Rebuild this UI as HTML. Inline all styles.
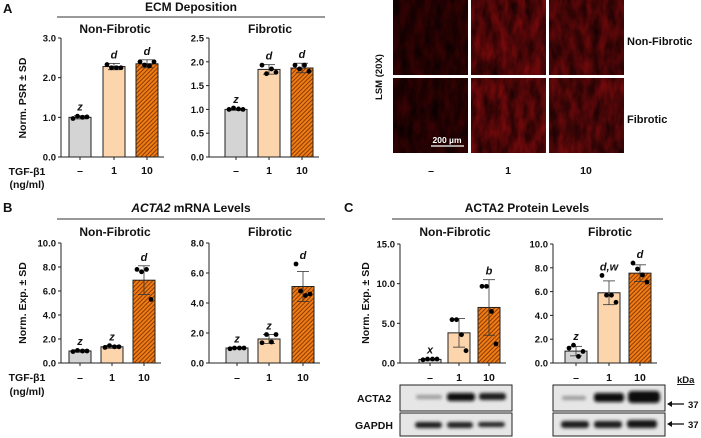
<!DOCTYPE html>
<html><head><meta charset="utf-8"><style>
html,body{margin:0;padding:0;background:#fff;}
svg{display:block;font-family:"Liberation Sans",Arial,sans-serif;}
text{font-weight:bold;fill:#111;}
</style></head><body>
<svg id="fig" width="701" height="438" viewBox="0 0 701 438" xmlns="http://www.w3.org/2000/svg">
<defs>
<pattern id="hatch" width="3" height="3" patternUnits="userSpaceOnUse" patternTransform="rotate(45)">
<rect width="3" height="3" fill="#f07d14"/><rect width="1" height="3" fill="#8a3a05"/>
</pattern>
<filter id="tex" x="0" y="0" width="100%" height="100%">
<feTurbulence type="fractalNoise" baseFrequency="0.12 0.05" numOctaves="3" seed="7"/>
<feColorMatrix type="matrix" values="0 0 0 0 0  0 0 0 0 0  0 0 0 0 0  0 0 0 -1.4 1.2"/>
</filter>
<filter id="blur"><feGaussianBlur stdDeviation="1.6"/></filter>
</defs>
<g id="static">
<text x="3" y="13" font-size="13">A</text>
<text x="3" y="212" font-size="13">B</text>
<text x="344" y="212" font-size="13">C</text>
<text x="191" y="11" font-size="12" text-anchor="middle">ECM Deposition</text>
<line x1="57" y1="17" x2="325" y2="17" stroke="#333" stroke-width="1"/>
<text x="191" y="212" font-size="12" text-anchor="middle"><tspan font-style="italic">ACTA2</tspan> mRNA Levels</text>
<line x1="57" y1="219" x2="325" y2="219" stroke="#333" stroke-width="1"/>
<text x="527" y="212" font-size="12" text-anchor="middle">ACTA2 Protein Levels</text>
<line x1="392" y1="219" x2="663" y2="219" stroke="#333" stroke-width="1"/>
<text x="27" y="175" font-size="10.5" text-anchor="middle">TGF-β1</text>
<text x="27" y="188" font-size="10.5" text-anchor="middle">(ng/ml)</text>
<text x="27" y="381" font-size="10.5" text-anchor="middle">TGF-β1</text>
<text x="27" y="395" font-size="10.5" text-anchor="middle">(ng/ml)</text>
<text transform="translate(26,98) rotate(-90)" font-size="10.5" text-anchor="middle">Norm. PSR ± SD</text>
<text transform="translate(26,303) rotate(-90)" font-size="10.5" text-anchor="middle">Norm. Exp. ± SD</text>
<text transform="translate(369,303) rotate(-90)" font-size="10.5" text-anchor="middle">Norm. Exp. ± SD</text>
<text transform="translate(382,77) rotate(-90)" font-size="9.5" text-anchor="middle">LSM (20X)</text>
<g>
<rect x="393" y="0" width="75" height="75" fill="#3a0304"/><rect x="393" y="0" width="75" height="75" fill="#c8161b" filter="url(#tex)" opacity="0.8"/>
<rect x="471" y="0" width="75" height="75" fill="#7a0a0c"/><rect x="471" y="0" width="75" height="75" fill="#e0262a" filter="url(#tex)" opacity="0.75"/>
<rect x="549" y="0" width="75" height="75" fill="#6e090b"/><rect x="549" y="0" width="75" height="75" fill="#d82024" filter="url(#tex)" opacity="0.75"/>
<rect x="393" y="78" width="75" height="75" fill="#3a0304"/><rect x="393" y="78" width="75" height="75" fill="#c8161b" filter="url(#tex)" opacity="0.8"/>
<rect x="471" y="78" width="75" height="75" fill="#7a0a0c"/><rect x="471" y="78" width="75" height="75" fill="#e0262a" filter="url(#tex)" opacity="0.75"/>
<rect x="549" y="78" width="75" height="75" fill="#720a0c"/><rect x="549" y="78" width="75" height="75" fill="#d82024" filter="url(#tex)" opacity="0.75"/>
<line x1="431" y1="146" x2="464" y2="146" stroke="#fff" stroke-width="1.2"/>
<text x="447" y="143" font-size="8.5" text-anchor="middle" style="fill:#fff">200 µm</text>
</g>
<text x="627" y="45" font-size="11">Non-Fibrotic</text>
<text x="627" y="123" font-size="11">Fibrotic</text>
<text x="431" y="174" font-size="10.5" text-anchor="middle">–</text>
<text x="508" y="174" font-size="10.5" text-anchor="middle">1</text>
<text x="586" y="174" font-size="10.5" text-anchor="middle">10</text>
<g>
<rect x="400" y="385" width="112" height="26" fill="#e6e6e6" stroke="#222" stroke-width="1"/>
<rect x="400" y="413" width="112" height="23" fill="#e6e6e6" stroke="#222" stroke-width="1"/>
<rect x="553" y="385" width="112" height="26" fill="#e6e6e6" stroke="#222" stroke-width="1"/>
<rect x="553" y="413" width="112" height="23" fill="#e6e6e6" stroke="#222" stroke-width="1"/>
<g filter="url(#blur)">
<rect x="416" y="395" width="26" height="4" rx="2" fill="#999"/>
<rect x="447" y="393" width="28" height="8" rx="3" fill="#111"/>
<rect x="479" y="393" width="27" height="7" rx="3" fill="#1a1a1a"/>
<rect x="415" y="422" width="27" height="6" rx="3" fill="#1a1a1a"/>
<rect x="447" y="422" width="26" height="6" rx="3" fill="#222"/>
<rect x="478" y="422" width="27" height="5" rx="3" fill="#222"/>
<rect x="562" y="396" width="24" height="4" rx="2" fill="#999"/>
<rect x="594" y="393" width="30" height="9" rx="3" fill="#111"/>
<rect x="628" y="391" width="32" height="12" rx="4" fill="#0a0a0a"/>
<rect x="561" y="421" width="28" height="7" rx="3" fill="#1a1a1a"/>
<rect x="594" y="421" width="28" height="7" rx="3" fill="#1a1a1a"/>
<rect x="627" y="420" width="30" height="8" rx="3" fill="#151515"/>
</g>
</g>
<text x="357" y="402" font-size="10.5">ACTA2</text>
<text x="355" y="429" font-size="10.5">GAPDH</text>
<text x="677" y="383" font-size="9.5" text-decoration="underline">kDa</text>
<g>
<line x1="670" y1="404" x2="684" y2="404" stroke="#111" stroke-width="1.3"/><polygon points="667,404 672,401 672,407" fill="#111"/>
<text x="688" y="408" font-size="9.5">37</text>
<line x1="670" y1="424" x2="684" y2="424" stroke="#111" stroke-width="1.3"/><polygon points="667,424 672,421 672,427" fill="#111"/>
<text x="688" y="428" font-size="9.5">37</text>
</g>
</g>
<g id="charts"></g>
</svg>
<script>
const aNfMeans=[1.0,2.28,2.35];
const aNfSd=[0.04,0.08,0.1];
const aNfPts=[[0.97,1.03,1.0,1.01],[2.33,2.25,2.25,2.25],[2.4,2.32,2.3,2.4]];
const aNfLetters=["z","d","d"];
const aNfTicks=[0,1,2,3];
const aFMeans=[1.0,1.84,1.87];
const aFSd=[0.02,0.1,0.1];
const aFPts=[[1.0,1.03,1.01,1.0],[1.93,1.75,1.85,1.78],[1.93,1.85,1.93,1.8]];
const aFLetters=["z","d","d"];
const aFTicks=[0,0.5,1,1.5,2,2.5];
const bNfMeans=[1.0,1.35,6.9];
const bNfSd=[0.1,0.12,1.2];
const bNfPts=[[0.95,1.05,1.0,1.0],[1.3,1.45,1.35,1.35],[7.8,7.6,7.8,5.3]];
const bNfLetters=["z","z","d"];
const bNfTicks=[0,2,4,6,8,10];
const bFMeans=[1.0,1.6,5.1];
const bFSd=[0.05,0.3,1.0];
const bFPts=[[0.95,1.0,1.0,1.0],[1.35,1.9,1.4,1.9],[6.6,4.8,4.5,4.6]];
const bFLetters=["z","z","d"];
const bFTicks=[0,2,4,6,8];
const cNfMeans=[0.45,3.8,7.0];
const cNfSd=[0.1,1.8,3.5];
const cNfPts=[[0.4,0.5,0.5,0.5],[5.46,5.46,3.57,1.55],[9.66,9.66,6.5,2.4]];
const cNfLetters=["x","","b"];
const cNfTicks=[0,5,10,15];
const cFMeans=[1.0,5.9,7.55];
const cFSd=[0.4,1.0,0.7];
const cFPts=[[1.25,1.5,0.55,0.97],[7.36,5.7,5.7,5.1],[8.4,7.9,7.4,6.8]];
const cFLetters=["z","d,w","d"];
const cFTicks=[0,2,4,6,8,10];
const doseLabels=["–","1","10"];

const NS="http://www.w3.org/2000/svg";
const root=document.getElementById('charts');
function mk(tag,attrs,parent){const e=document.createElementNS(NS,tag);for(const k in attrs)e.setAttribute(k,attrs[k]);(parent||root).appendChild(e);return e;}
const fills=["#d4d4d4","#fdd5ac","url(#hatch)"];

function chart(name,ax,y0,y1,max,ticks,dec,centers,means,sd,pts,letters,title,titleX,titleY,labelY){
  const g=mk('g',{});
  
  
  const ys=v=>y0-(v/max)*(y0-y1);
  const t=mk('text',{x:titleX,y:titleY,'font-size':12,'text-anchor':'middle'},g);t.textContent=title;
  
  
  mk('line',{x1:ax,y1:y1,x2:ax,y2:y0,stroke:'#222','stroke-width':1},g);
  mk('line',{x1:ax,y1:y0,x2:centers[2]+17,y2:y0,stroke:'#222','stroke-width':1},g);
  ticks.forEach(v=>{
    mk('line',{x1:ax-3,y1:ys(v),x2:ax,y2:ys(v),stroke:'#222'},g);
    const tl=mk('text',{x:ax-5,y:ys(v)+3.5,'font-size':9.5,'text-anchor':'end'},g);
    tl.textContent=v.toFixed(dec);
    
    
  });
  centers.forEach((c,i)=>{
    mk('line',{x1:c,y1:y0,x2:c,y2:y0+3,stroke:'#222'},g);
    const xl=mk('text',{x:c,y:labelY,'font-size':10.5,'text-anchor':'middle'},g);
    xl.textContent=doseLabels[i];
    
    
    const b=mk('rect',{x:c-11,y:ys(means[i]),width:22,height:y0-ys(means[i]),fill:fills[i],stroke:'#222','stroke-width':1},g);
    
    
    const top=ys(means[i]+sd[i]),bot=ys(Math.max(0,means[i]-sd[i]));
    mk('line',{x1:c,y1:top,x2:c,y2:bot,stroke:'#333','stroke-width':0.8},g);
    mk('line',{x1:c-6,y1:top,x2:c+6,y2:top,stroke:'#333','stroke-width':0.8},g);
    mk('line',{x1:c-6,y1:bot,x2:c+6,y2:bot,stroke:'#333','stroke-width':0.8},g);
    const offs=[-7,-2.5,2.5,7];
    pts[i].forEach((p,j)=>{
      const d=mk('circle',{cx:c+offs[j],cy:ys(p),r:2.4,fill:'#000'},g);
      
      
    });
    const hi=Math.min(top,...pts[i].map(ys));
    if(letters[i]){
      const l=mk('text',{x:c,y:hi-5,'font-size':11,'text-anchor':'middle','font-style':'italic'},g);
      l.textContent=letters[i];
      
      
    }
  });
}
chart('chart-a-nonfibrotic',61,157,38,3,aNfTicks,1,[80,114,147],aNfMeans,aNfSd,aNfPts,aNfLetters,'Non-Fibrotic',115,33,174);
chart('chart-a-fibrotic',209,157,38,2.5,aFTicks,1,[236,269,302],aFMeans,aFSd,aFPts,aFLetters,'Fibrotic',270,33,174);
chart('chart-b-nonfibrotic',61,363,243,10,bNfTicks,1,[80,112,144],bNfMeans,bNfSd,bNfPts,bNfLetters,'Non-Fibrotic',115,236,381);
chart('chart-b-fibrotic',209,363,243,8,bFTicks,1,[237,269,303],bFMeans,bFSd,bFPts,bFLetters,'Fibrotic',270,236,381);
chart('chart-c-nonfibrotic',400,363,244,15,cNfTicks,1,[430,459,489],cNfMeans,cNfSd,cNfPts,cNfLetters,'Non-Fibrotic',455,236,381);
chart('chart-c-fibrotic',553,363,244,10,cFTicks,1,[576,609,640],cFMeans,cFSd,cFPts,cFLetters,'Fibrotic',610,236,381);
</script>
</body></html>
